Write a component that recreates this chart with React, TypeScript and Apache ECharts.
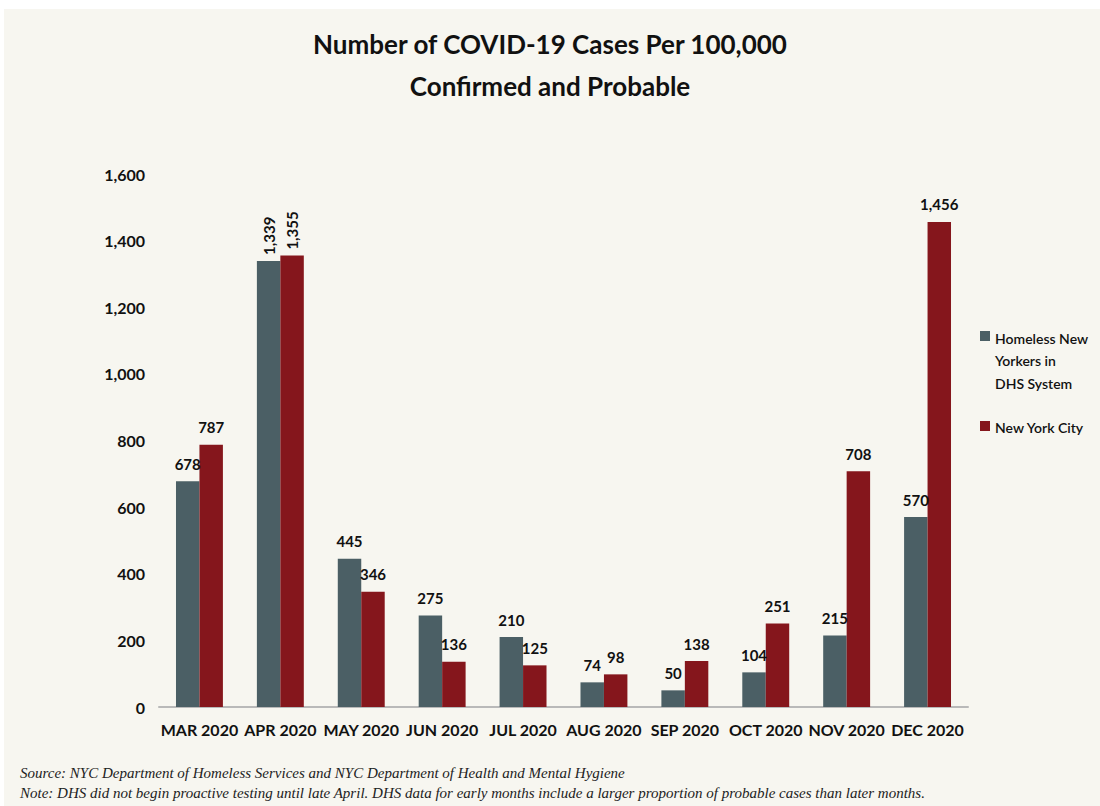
import React, { useEffect, useRef } from "react";
import * as echarts from "echarts";

const categories = ["MAR 2020", "APR 2020", "MAY 2020", "JUN 2020", "JUL 2020", "AUG 2020", "SEP 2020", "OCT 2020", "NOV 2020", "DEC 2020"];
const homeless = [678, 1339, 445, 275, 210, 74, 50, 104, 215, 570];
const nyc = [787, 1355, 346, 136, 125, 98, 138, 251, 708, 1456];
const seriesNames = ["Homeless New Yorkers in DHS System", "New York City"];
const yTicks = [0, 200, 400, 600, 800, 1000, 1200, 1400, 1600];
const titleLines = ["Number of COVID-19 Cases Per 100,000", "Confirmed and Probable"];
const notes = [
  "Source: NYC Department of Homeless Services and NYC Department of Health and Mental Hygiene",
  "Note: DHS did not begin proactive testing until late April. DHS data for early months include a larger proportion of probable cases than later months.",
];

const GRAY = "#4b5f65";
const RED = "#85161c";
const FONT = "Lato, 'Open Sans', sans-serif";

const fmt = (v: number) => v.toLocaleString("en-US");

function mkData(vals: number[]) {
  return vals.map((v, i) =>
    i === 1
      ? { value: v, label: { rotate: 90, align: "left", verticalAlign: "middle", distance: 6 } }
      : { value: v }
  );
}

export default function App() {
  const ref = useRef<HTMLDivElement>(null);
  useEffect(() => {
    if (!ref.current) return;
    const chart = echarts.init(ref.current, null, { renderer: "svg" });
    const labelStyle = {
      show: true,
      position: "top",
      distance: 10,
      color: "#111",
      fontFamily: FONT,
      fontWeight: "bold",
      fontSize: 15,
      formatter: (p: any) => fmt(p.value),
    };
    chart.setOption({
      animation: false,
      backgroundColor: "transparent",
      title: {
        text: titleLines.join("\n"),
        left: "center",
        top: 18,
        textStyle: {
          fontFamily: FONT,
          fontWeight: "bold",
          fontSize: 26,
          lineHeight: 42,
          color: "#111",
        },
      },
      grid: { left: 159, right: 132, top: 174, bottom: 99, containLabel: false },
      xAxis: {
        type: "category",
        data: categories,
        axisLine: { lineStyle: { color: "#b9b9b9", width: 2 } },
        axisTick: { show: false },
        axisLabel: {
          color: "#111",
          fontFamily: FONT,
          fontWeight: "bold",
          fontSize: 16,
          margin: 14,
          interval: 0,
        },
      },
      yAxis: {
        type: "value",
        min: yTicks[0],
        max: yTicks[yTicks.length - 1],
        interval: 200,
        axisLine: { show: false },
        axisTick: { show: false },
        splitLine: { show: false },
        axisLabel: {
          color: "#111",
          fontFamily: FONT,
          fontWeight: "bold",
          fontSize: 16,
          margin: 14,
          formatter: (v: number) => fmt(v),
        },
      },
      series: [
        {
          name: seriesNames[0],
          type: "bar",
          data: mkData(homeless),
          itemStyle: { color: GRAY },
          barGap: "0%",
          barCategoryGap: "42%",
          label: labelStyle,
        },
        {
          name: seriesNames[1],
          type: "bar",
          data: mkData(nyc),
          itemStyle: { color: RED },
          barGap: "0%",
          barCategoryGap: "42%",
          label: labelStyle,
        },
      ],
      graphic: [
        { type: "rect", left: 980, top: 331, shape: { width: 10, height: 10 }, style: { fill: GRAY } },
        {
          type: "text",
          left: 995,
          top: 327,
          style: {
            text: "Homeless New\nYorkers in\nDHS System",
            fill: "#111",
            font: `600 14px ${FONT}`,
            lineHeight: 22.5,
          },
        },
        { type: "rect", left: 980, top: 421, shape: { width: 10, height: 10 }, style: { fill: RED } },
        {
          type: "text",
          left: 995,
          top: 417,
          style: { text: "New York City", fill: "#111", font: `600 14px ${FONT}`, lineHeight: 20 },
        },
        {
          type: "text",
          left: 20,
          top: 765,
          style: {
            text: notes[0],
            fill: "#222",
            font: `italic 15px 'Liberation Serif', serif`,
          },
        },
        {
          type: "text",
          left: 20,
          top: 785,
          style: {
            text: notes[1],
            fill: "#222",
            font: `italic 15px 'Liberation Serif', serif`,
          },
        },
      ],
    });
    return () => chart.dispose();
  }, []);
  return (
    <div style={{ position: "fixed", left: 0, top: 0, width: 1100, height: 806, background: "#ffffff" }}>
      <div style={{ position: "absolute", left: 4, top: 9, right: 0, bottom: 0, background: "#f7f6f0" }} />
      <div ref={ref} style={{ position: "absolute", left: 0, top: 0, width: 1100, height: 806 }} />
    </div>
  );
}
